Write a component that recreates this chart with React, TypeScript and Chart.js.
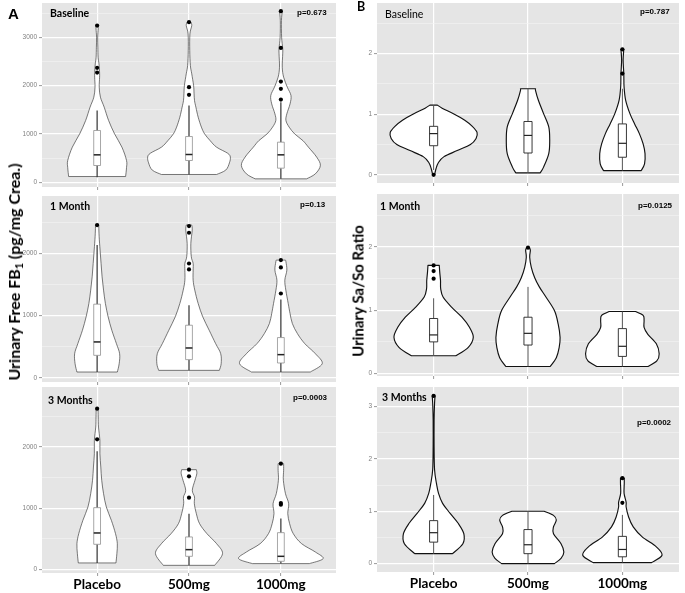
import React, { useEffect, useRef } from "react";
import { Chart, registerables } from "chart.js";

Chart.register(...registerables);

// ---------- categories & labels ----------
const groups = ["Placebo", "500mg", "1000mg"];
const panelLabels = ["Baseline", "1 Month", "3 Months"];
const pValuesA = ["p=0.673", "p=0.13", "p=0.0003"];
const pValuesB = ["p=0.787", "p=0.0125", "p=0.0002"];

// ---------- tick values ----------
const aBaselineTicks = [0, 1000, 2000, 3000];
const aBaselineMinor = [500, 1500, 2500, 3500];
const aMonthTicks = [0, 1000, 2000];
const aMonthMinor = [500, 1500, 2500];
const bTicks = [0, 1, 2];
const bMinor = [0.5, 1.5, 2.5];
const b3Ticks = [0, 1, 2, 3];
const b3Minor = [0.5, 1.5, 2.5];

// ---------- Panel A: Urinary free FB1, Baseline ----------
// violin outline: values (y) and half-widths (in category units)
const a1ViolinY = [
  [117, 300, 450, 725, 1000, 1277, 1553, 1760, 1967, 2174, 2300, 2450, 2588, 2795, 3000, 3175, 3243],
  [159, 250, 400, 520, 600, 725, 860, 1000, 1140, 1345, 1553, 1690, 1830, 2000, 2243, 2415, 2725, 3070, 3243, 3312],
  [69, 172, 345, 518, 725, 860, 1000, 1140, 1277, 1415, 1622, 1794, 1967, 2174, 2380, 2657, 2770, 3000, 3346, 3540],
];
const a1ViolinW = [
  [0.31, 0.32, 0.32, 0.27, 0.19, 0.125, 0.077, 0.036, 0.023, 0.027, 0.026, 0.02, 0.011, 0.008, 0.006, 0.012, 0.012],
  [0.3, 0.4, 0.44, 0.45, 0.42, 0.3, 0.23, 0.17, 0.135, 0.1, 0.075, 0.06, 0.055, 0.05, 0.03, 0.015, 0.008, 0.01, 0.03, 0.02],
  [0.28, 0.375, 0.43, 0.39, 0.3, 0.24, 0.15, 0.09, 0.055, 0.065, 0.1, 0.11, 0.07, 0.03, 0.015, 0.02, 0.02, 0.008, 0.006, 0.015],
];
// box: [whisker low, Q1, median, Q3, whisker high]
const a1Box = [
  [104, 345, 566, 1070, 1483],
  [159, 449, 573, 945, 1587],
  [69, 290, 566, 828, 1656],
];
const a1Outliers = [
  [3243, 2367, 2270],
  [3312, 1967, 1808],
  [3540, 2780, 2084, 1932, 1711],
];

// ---------- Panel A: 1 Month ----------
const a2ViolinY = [
  [96, 230, 390, 552, 766, 981, 1195, 1410, 1624, 1838, 2053, 2267, 2428, 2455],
  [123, 230, 391, 552, 766, 981, 1195, 1410, 1570, 1731, 1840, 1946, 2160, 2374, 2455],
  [96, 230, 391, 552, 713, 874, 1034, 1195, 1410, 1570, 1731, 1865, 1892],
];
const a2ViolinW = [
  [0.22, 0.24, 0.245, 0.21, 0.16, 0.12, 0.09, 0.07, 0.054, 0.043, 0.032, 0.022, 0.018, 0.02],
  [0.33, 0.35, 0.345, 0.29, 0.22, 0.15, 0.1, 0.063, 0.045, 0.045, 0.045, 0.025, 0.02, 0.035, 0.03],
  [0.32, 0.45, 0.375, 0.26, 0.18, 0.125, 0.1, 0.08, 0.054, 0.043, 0.065, 0.055, 0.05],
];
const a2Box = [
  [96, 364, 579, 1185, 2133],
  [123, 295, 482, 847, 1168],
  [96, 241, 375, 649, 1260],
];
const a2Outliers = [
  [2455],
  [2439, 2331, 1838, 1742],
  [1892, 1774, 1356],
];

// ---------- Panel A: 3 Months ----------
const a3ViolinY = [
  [109, 261, 424, 587, 804, 1022, 1239, 1457, 1674, 1891, 2109, 2326, 2489, 2625],
  [70, 261, 424, 587, 750, 913, 1076, 1185, 1294, 1457, 1565, 1630],
  [98, 179, 288, 424, 587, 750, 913, 1076, 1239, 1457, 1620, 1728],
];
const a3ViolinW = [
  [0.205, 0.215, 0.22, 0.2, 0.155, 0.1, 0.07, 0.05, 0.04, 0.03, 0.03, 0.015, 0.012, 0.01],
  [0.28, 0.365, 0.3, 0.195, 0.115, 0.08, 0.058, 0.06, 0.036, 0.065, 0.085, 0.08],
  [0.31, 0.46, 0.375, 0.225, 0.135, 0.095, 0.075, 0.085, 0.05, 0.027, 0.03, 0.03],
];
const a3Box = [
  [109, 413, 598, 1011, 1929],
  [70, 217, 326, 533, 913],
  [98, 136, 217, 603, 832],
];
const a3Outliers = [
  [2625, 2125],
  [1630, 1522, 1174],
  [1728, 1087, 1060],
];

// ---------- Panel B: Urinary Sa/So ratio, Baseline ----------
const b1ViolinY = [
  [0.0, 0.1, 0.2, 0.3, 0.4, 0.5, 0.6, 0.7, 0.8, 0.9, 1.0, 1.1, 1.15],
  [0.033, 0.127, 0.35, 0.57, 0.79, 1.01, 1.23, 1.39, 1.42],
  [0.07, 0.18, 0.35, 0.51, 0.68, 0.84, 1.01, 1.23, 1.45, 1.67, 1.89, 2.07],
];
const b1ViolinW = [
  [0.01, 0.025, 0.05, 0.11, 0.25, 0.39, 0.45, 0.46, 0.41, 0.33, 0.22, 0.09, 0.04],
  [0.13, 0.165, 0.22, 0.23, 0.22, 0.165, 0.11, 0.08, 0.08],
  [0.2, 0.235, 0.24, 0.22, 0.18, 0.13, 0.08, 0.035, 0.018, 0.015, 0.008, 0.015],
];
const b1Box = [
  [0.08, 0.48, 0.68, 0.8, 1.15],
  [0.033, 0.36, 0.65, 0.88, 1.42],
  [0.07, 0.29, 0.52, 0.84, 1.42],
];
const b1Outliers = [[0.0], [], [2.07, 1.67]];

// ---------- Panel B: 1 Month ----------
const b2ViolinY = [
  [0.28, 0.41, 0.57, 0.73, 0.89, 1.05, 1.21, 1.34, 1.47, 1.6, 1.71],
  [0.11, 0.25, 0.41, 0.57, 0.78, 0.995, 1.21, 1.37, 1.52, 1.68, 1.84, 1.95, 1.99],
  [0.11, 0.2, 0.31, 0.47, 0.62, 0.73, 0.84, 0.92, 0.98],
];
const b2ViolinW = [
  [0.235, 0.365, 0.42, 0.38, 0.3, 0.19, 0.1, 0.075, 0.073, 0.065, 0.06],
  [0.235, 0.3, 0.33, 0.34, 0.32, 0.28, 0.19, 0.12, 0.07, 0.035, 0.018, 0.025, 0.015],
  [0.27, 0.365, 0.39, 0.36, 0.27, 0.23, 0.23, 0.22, 0.14],
];
const b2Box = [
  [0.28, 0.5, 0.61, 0.87, 1.19],
  [0.11, 0.45, 0.635, 0.89, 1.37],
  [0.11, 0.27, 0.43, 0.71, 0.98],
];
const b2Outliers = [[1.71, 1.62, 1.5], [1.99], []];

// ---------- Panel B: 3 Months ----------
const b3ViolinY = [
  [0.19, 0.38, 0.57, 0.77, 0.96, 1.15, 1.34, 1.53, 1.79, 2.23, 2.74, 3.06, 3.2],
  [0.0, 0.1, 0.22, 0.38, 0.57, 0.7, 0.83, 0.92, 1.0],
  [0.02, 0.16, 0.32, 0.51, 0.7, 0.89, 1.08, 1.17, 1.34, 1.53, 1.63],
];
const b3ViolinW = [
  [0.2, 0.31, 0.32, 0.26, 0.175, 0.095, 0.052, 0.03, 0.01, 0.005, 0.005, 0.01, 0.015],
  [0.28, 0.35, 0.38, 0.35, 0.27, 0.27, 0.3, 0.27, 0.17],
  [0.31, 0.42, 0.36, 0.21, 0.115, 0.066, 0.04, 0.04, 0.018, 0.02, 0.02],
];
const b3Box = [
  [0.19, 0.41, 0.59, 0.82, 1.31],
  [0.0, 0.19, 0.36, 0.65, 1.0],
  [0.02, 0.13, 0.27, 0.52, 0.93],
];
const b3Outliers = [[3.2], [], [1.63, 1.16]];

// ---------- layout / styles ----------
const CAL = "Lato, 'Open Sans', sans-serif";
const ARIAL = "'Liberation Sans', Arial, sans-serif";

type Spec = {
  id: string;
  col: number;
  top: number;
  bottom: number;
  yMin: number;
  yMax: number;
  major: number[];
  minor: number[];
  vY: number[][];
  vW: number[][];
  box: number[][];
  out: number[][];
  bottomRow: boolean;
};

const specs: Spec[] = [
  { id: "a1", col: 0, top: 3, bottom: 187, yMin: -100, yMax: 3710, major: aBaselineTicks, minor: aBaselineMinor, vY: a1ViolinY, vW: a1ViolinW, box: a1Box, out: a1Outliers, bottomRow: false },
  { id: "a2", col: 0, top: 196, bottom: 382, yMin: -64, yMax: 2921, major: aMonthTicks, minor: aMonthMinor, vY: a2ViolinY, vW: a2ViolinW, box: a2Box, out: a2Outliers, bottomRow: false },
  { id: "a3", col: 0, top: 387, bottom: 573, yMin: -55, yMax: 2979, major: aMonthTicks, minor: aMonthMinor, vY: a3ViolinY, vW: a3ViolinW, box: a3Box, out: a3Outliers, bottomRow: true },
  { id: "b1", col: 1, top: 3, bottom: 183, yMin: -0.135, yMax: 2.835, major: bTicks, minor: bMinor, vY: b1ViolinY, vW: b1ViolinW, box: b1Box, out: b1Outliers, bottomRow: false },
  { id: "b2", col: 1, top: 194, bottom: 376, yMin: -0.04, yMax: 2.84, major: bTicks, minor: bMinor, vY: b2ViolinY, vW: b2ViolinW, box: b2Box, out: b2Outliers, bottomRow: false },
  { id: "b3", col: 1, top: 387, bottom: 572, yMin: -0.16, yMax: 3.37, major: b3Ticks, minor: b3Minor, vY: b3ViolinY, vW: b3ViolinW, box: b3Box, out: b3Outliers, bottomRow: true },
];

const PAD_TOP = 8;

function splineThrough(ctx: CanvasRenderingContext2D, pts: { x: number; y: number }[]) {
  for (let i = 0; i < pts.length - 1; i++) {
    const p0 = pts[i - 1] || pts[i];
    const p1 = pts[i];
    const p2 = pts[i + 1];
    const p3 = pts[i + 2] || p2;
    const t = 1 / 6;
    ctx.bezierCurveTo(
      p1.x + (p2.x - p0.x) * t,
      p1.y + (p2.y - p0.y) * t,
      p2.x - (p3.x - p1.x) * t,
      p2.y - (p3.y - p1.y) * t,
      p2.x,
      p2.y
    );
  }
}

function makePlugin(spec: Spec) {
  const isA = spec.col === 0;
  return {
    id: "violins-" + spec.id,
    beforeDraw(chart: any) {
      const { ctx, chartArea: a } = chart;
      ctx.save();
      ctx.fillStyle = "#E5E5E5";
      ctx.fillRect(a.left, a.top, a.right - a.left, a.bottom - a.top);
      ctx.restore();
    },
    beforeDatasetsDraw(chart: any) {
      const { ctx } = chart;
      const xs = chart.scales.x;
      const ys = chart.scales.y;
      ctx.save();
      spec.vY.forEach((Y, gi) => {
        const c = gi + 1;
        const W = spec.vW[gi];
        const right = Y.map((v, i) => ({ x: xs.getPixelForValue(c + W[i]), y: ys.getPixelForValue(v) }));
        const left = Y.map((v, i) => ({ x: xs.getPixelForValue(c - W[i]), y: ys.getPixelForValue(v) })).reverse();
        ctx.beginPath();
        ctx.moveTo(right[0].x, right[0].y);
        splineThrough(ctx, right);
        ctx.lineTo(left[0].x, left[0].y);
        splineThrough(ctx, left);
        ctx.closePath();
        ctx.fillStyle = "#FFFFFF";
        ctx.fill();
        ctx.lineWidth = isA ? 0.65 : 1.15;
        ctx.strokeStyle = isA ? "#333333" : "#111111";
        ctx.lineJoin = "round";
        ctx.stroke();

        // box plot
        const [lo, q1, med, q3, hi] = spec.box[gi];
        const bw = isA ? 0.037 : 0.043;
        const xc = xs.getPixelForValue(c);
        const xl = xs.getPixelForValue(c - bw);
        const xr = xs.getPixelForValue(c + bw);
        ctx.beginPath();
        ctx.moveTo(xc, ys.getPixelForValue(lo));
        ctx.lineTo(xc, ys.getPixelForValue(q1));
        ctx.moveTo(xc, ys.getPixelForValue(q3));
        ctx.lineTo(xc, ys.getPixelForValue(hi));
        ctx.lineWidth = isA ? 1.2 : 1.0;
        ctx.strokeStyle = isA ? "#333333" : "#555555";
        ctx.stroke();
        const yq1 = ys.getPixelForValue(q1);
        const yq3 = ys.getPixelForValue(q3);
        ctx.beginPath();
        ctx.rect(xl, yq3, xr - xl, yq1 - yq3);
        ctx.fillStyle = "#FFFFFF";
        ctx.fill();
        ctx.lineWidth = isA ? 0.75 : 0.9;
        ctx.strokeStyle = isA ? "#8A8A8A" : "#222222";
        ctx.stroke();
        const ym = ys.getPixelForValue(med);
        ctx.beginPath();
        ctx.moveTo(xl, ym);
        ctx.lineTo(xr, ym);
        ctx.lineWidth = isA ? 1.5 : 1.2;
        ctx.strokeStyle = "#222222";
        ctx.stroke();
      });
      ctx.restore();
    },
  };
}

function PanelChart({ spec }: { spec: Spec }) {
  const ref = useRef<HTMLCanvasElement | null>(null);
  const isA = spec.col === 0;
  const left = isA ? 0 : 340;
  const width = isA ? 340 : 343;
  const yW = isA ? 42 : 37;
  const xH = spec.bottomRow ? 28 : 8;
  const height = PAD_TOP + (spec.bottom - spec.top) + xH;
  const top = spec.top - PAD_TOP;

  useEffect(() => {
    const canvas = ref.current;
    if (!canvas) return;
    const majorSet = new Set(spec.major);
    const points = spec.out.flatMap((arr, gi) => arr.map((v) => ({ x: gi + 1, y: v })));
    const chart = new Chart(canvas, {
      type: "scatter",
      data: {
        datasets: [
          {
            data: points,
            pointRadius: 2.1,
            pointBackgroundColor: "#000000",
            pointBorderWidth: 0,
            clip: false as any,
          },
        ],
      },
      options: {
        responsive: false,
        animation: false,
        devicePixelRatio: 1,
        layout: { padding: { top: PAD_TOP, left: 0, right: 0, bottom: 0 } },
        plugins: { legend: { display: false }, tooltip: { enabled: false } },
        events: [],
        scales: {
          x: {
            type: "linear",
            min: 0.4,
            max: 3.6,
            afterBuildTicks: (s: any) => {
              s.ticks = groups.map((_, i) => ({ value: i + 1 }));
            },
            afterFit: (s: any) => {
              s.height = xH;
            },
            border: { display: false },
            grid: {
              color: "#FFFFFF",
              lineWidth: 1.2,
              drawTicks: true,
              tickLength: 3,
              tickColor: "#7F7F7F",
              tickWidth: 0.8,
            },
            ticks: {
              autoSkip: false,
              maxRotation: 0,
              padding: 1,
              color: "#000000",
              font: { family: CAL, size: 13.5, weight: "bold" },
              callback: (v: any) => (spec.bottomRow ? groups[Math.round(Number(v)) - 1] : ""),
            },
          },
          y: {
            type: "linear",
            min: spec.yMin,
            max: spec.yMax,
            afterBuildTicks: (s: any) => {
              s.ticks = [...spec.major, ...spec.minor].sort((a, b) => a - b).map((v) => ({ value: v }));
            },
            afterFit: (s: any) => {
              s.width = yW;
            },
            border: { display: false },
            grid: {
              color: (c: any) => (majorSet.has(c.tick?.value) ? "#FFFFFF" : "#F3F3F3"),
              lineWidth: (c: any) => (majorSet.has(c.tick?.value) ? 1.2 : 0.6),
              drawTicks: true,
              tickLength: 3,
              tickColor: (c: any) => (majorSet.has(c.tick?.value) ? "#7F7F7F" : "rgba(0,0,0,0)"),
              tickWidth: 0.8,
            },
            ticks: {
              padding: 2,
              color: "#7F7F7F",
              font: { family: ARIAL, size: 6.5 },
              callback: (v: any) => (majorSet.has(Number(v)) ? String(v) : ""),
            },
          },
        },
      },
      plugins: [makePlugin(spec)],
    } as any);
    return () => chart.destroy();
  }, [spec]);

  return (
    <canvas
      ref={ref}
      width={width}
      height={height}
      style={{ position: "absolute", left, top, width, height, display: "block" }}
    />
  );
}

const txt = (s: React.CSSProperties): React.CSSProperties => ({
  position: "absolute",
  whiteSpace: "nowrap",
  lineHeight: 1,
  color: "#000",
  ...s,
});

export default function App() {
  const labelPos = [
    { l: 50, t: 8 }, { l: 50, t: 201 }, { l: 48, t: 395 },
    { l: 385, t: 9 }, { l: 380, t: 201 }, { l: 382, t: 392 },
  ];
  const pPos = [
    { l: 297, t: 9 }, { l: 300, t: 201 }, { l: 293, t: 394 },
    { l: 640, t: 8 }, { l: 638, t: 202 }, { l: 637, t: 419 },
  ];
  return (
    <div style={{ position: "absolute", left: 0, top: 0, width: 685, height: 593, background: "#FFFFFF", overflow: "hidden" }}>
      {specs.map((s) => (
        <PanelChart key={s.id} spec={s} />
      ))}
      {labelPos.map((p, i) => (
        <div key={"lab" + i} style={txt({ left: p.l, top: p.t, fontFamily: CAL, fontWeight: i === 3 ? 400 : 700, fontSize: 10.5 })}>
          {panelLabels[i % 3]}
        </div>
      ))}
      {pPos.map((p, i) => (
        <div key={"p" + i} style={txt({ left: p.l, top: p.t, fontFamily: ARIAL, fontWeight: 700, fontSize: 8 })}>
          {i < 3 ? pValuesA[i] : pValuesB[i - 3]}
        </div>
      ))}
      <div style={txt({ left: 8, top: 6, fontFamily: ARIAL, fontWeight: 700, fontSize: 15 })}>A</div>
      <div style={txt({ left: 357, top: 1, fontFamily: CAL, fontWeight: 700, fontSize: 12.5 })}>B</div>
      <div
        style={txt({
          left: 14,
          top: 272,
          fontFamily: CAL,
          fontWeight: 700,
          fontSize: 16,
          transform: "translate(-50%, -50%) rotate(-90deg)",
        })}
      >
        Urinary Free FB<sub style={{ fontSize: "0.65em", verticalAlign: "-0.25em", lineHeight: 0 }}>1</sub> (pg/mg Crea.)
      </div>
      <div
        style={txt({
          left: 358,
          top: 291,
          fontFamily: CAL,
          fontWeight: 700,
          fontSize: 15,
          transform: "translate(-50%, -50%) rotate(-90deg)",
        })}
      >
        Urinary Sa/So Ratio
      </div>
    </div>
  );
}
